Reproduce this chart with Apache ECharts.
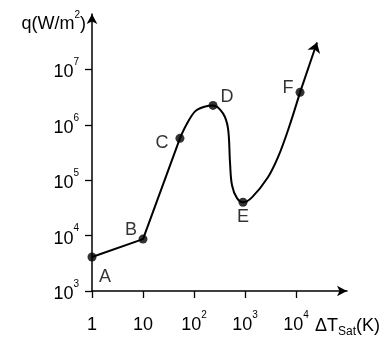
<!DOCTYPE html>
<html>
<head>
<meta charset="utf-8">
<script src="https://cdn.jsdelivr.net/npm/echarts@6/dist/echarts.min.js"></script>
<style>
  html, body { margin: 0; padding: 0; background: #fff; }
  #boilingChart { width: 391px; height: 340px; }
</style>
</head>
<body>
<div id="boilingChart"></div>
<script>
// tick values and their labels ("^" marks a superscript)
const xTickValues = [1, 10, 1e2, 1e3, 1e4];
const xTickLabels = ['1', '10', '10^2', '10^3', '10^4'];
const yTickValues = [1e3, 1e4, 1e5, 1e6, 1e7];
const yTickLabels = ['10^3', '10^4', '10^5', '10^6', '10^7'];

// marked points A..F
const pointNames = ['A', 'B', 'C', 'D', 'E', 'F'];
const pointX = [1, 10, 53, 236, 914, 12000];
const pointY = [4100, 8650, 5.7e5, 2.24e6, 4.0e4, 3.85e6];

// straight part A -> B -> C
const straightX = [1, 10, 53];
const straightY = [4100, 8650, 5.7e5];

// curved part C -> D -> E -> F
const curveX = [53, 70, 105, 160, 236, 370, 464, 508, 556, 697, 914, 1370, 2820, 4440, 6970, 12000];
const curveY = [5.7e5, 9.8e5, 1.75e6, 2.12e6, 2.24e6, 1.61e6, 8.65e5, 2.11e5, 8.1e4, 4.75e4, 4.0e4, 4.9e4, 1.13e5, 2.6e5, 7.96e5, 3.85e6];

// arrow past F
const arrowX = [12000, 25800];
const arrowY = [3.85e6, 3.06e7];

const FONT = "'Liberation Sans', Arial, sans-serif";

// label offsets for the letters (px)
const letterOffset = {
  A: [13, 20], B: [-12, -9], C: [-18, 5], D: [14, -8], E: [0, 15], F: [-12, -4]
};

function toRich(s) {
  const parts = s.split('^');
  return parts.length > 1 ? '{b|' + parts[0] + '}{s|' + parts[1] + '}' : '{b|' + s + '}';
}
function labelFor(values, labels) {
  return function (v) {
    const i = values.findIndex(t => Math.abs(Math.log10(t) - Math.log10(v)) < 1e-6);
    return i < 0 ? '' : toRich(labels[i]);
  };
}
const tickRich = {
  b: { fontFamily: FONT, fontSize: 18, color: '#000', lineHeight: 30 },
  s: { fontFamily: FONT, fontSize: 10, color: '#000', verticalAlign: 'top', lineHeight: 11 }
};

const zip = (xs, ys) => xs.map((x, i) => [x, ys[i]]);

const chart = echarts.init(document.getElementById('boilingChart'));
chart.setOption({
  animation: false,
  backgroundColor: '#fff',
  grid: { left: 92, right: 44, top: 14, bottom: 49 },
  xAxis: {
    type: 'log',
    logBase: 10,
    min: 1,
    max: 1e5,
    name: '{b|ΔT}{u|Sat}{b|(K)}',
    nameLocation: 'end',
    nameGap: -32,
    nameTextStyle: {
      align: 'left',
      verticalAlign: 'top',
      padding: [23, 0, 0, 0],
      rich: {
        b: { fontFamily: FONT, fontSize: 18, color: '#000', lineHeight: 24 },
        u: { fontFamily: FONT, fontSize: 12, color: '#000', verticalAlign: 'bottom', lineHeight: 14 }
      }
    },
    axisLine: { onZero: false, symbol: ['none', 'arrow'], symbolSize: [8, 10], lineStyle: { color: '#000', width: 1.5 } },
    axisTick: { show: true, inside: false, length: 7, customValues: xTickValues, lineStyle: { color: '#000', width: 1.3 } },
    axisLabel: { margin: 19, customValues: xTickValues, formatter: labelFor(xTickValues, xTickLabels), rich: tickRich },
    splitLine: { show: false },
    minorTick: { show: false }
  },
  yAxis: {
    type: 'log',
    logBase: 10,
    min: 1e3,
    max: 1e8,
    name: '{b|q(W/m}{s|2}{b|)}',
    nameLocation: 'end',
    nameGap: -10,
    nameTextStyle: {
      align: 'right',
      verticalAlign: 'middle',
      padding: [0, 6, 0, 0],
      rich: {
        b: { fontFamily: FONT, fontSize: 18, color: '#000', lineHeight: 28 },
        s: { fontFamily: FONT, fontSize: 10, color: '#000', verticalAlign: 'top', lineHeight: 11 }
      }
    },
    axisLine: { onZero: false, symbol: ['none', 'arrow'], symbolSize: [8, 10], lineStyle: { color: '#000', width: 1.5 } },
    axisTick: { show: true, inside: false, length: 7, customValues: yTickValues, lineStyle: { color: '#000', width: 1.3 } },
    axisLabel: { margin: 13, padding: [6, 0, 0, 0], customValues: yTickValues, formatter: labelFor(yTickValues, yTickLabels), rich: tickRich },
    splitLine: { show: false },
    minorTick: { show: false }
  },
  series: [
    {
      type: 'line',
      data: zip(straightX, straightY),
      showSymbol: false,
      lineStyle: { color: '#000', width: 2 },
      silent: true
    },
    {
      type: 'line',
      data: zip(curveX, curveY),
      showSymbol: false,
      smooth: 0.35,
      lineStyle: { color: '#000', width: 2 },
      silent: true,
      markLine: {
        silent: true,
        symbol: ['none', 'arrow'],
        symbolSize: 10,
        label: { show: false },
        lineStyle: { color: '#000', width: 2, type: 'solid' },
        data: [[{ coord: [arrowX[0], arrowY[0]] }, { coord: [arrowX[1], arrowY[1]] }]]
      }
    },
    {
      type: 'scatter',
      symbolSize: 9,
      itemStyle: { color: '#000' },
      data: pointNames.map((n, i) => ({
        name: n,
        value: [pointX[i], pointY[i]],
        label: {
          show: true,
          position: 'inside',
          offset: letterOffset[n],
          formatter: n,
          fontFamily: FONT,
          fontSize: 18,
          color: '#000'
        }
      })),
      z: 5
    }
  ]
});
</script>
</body>
</html>
